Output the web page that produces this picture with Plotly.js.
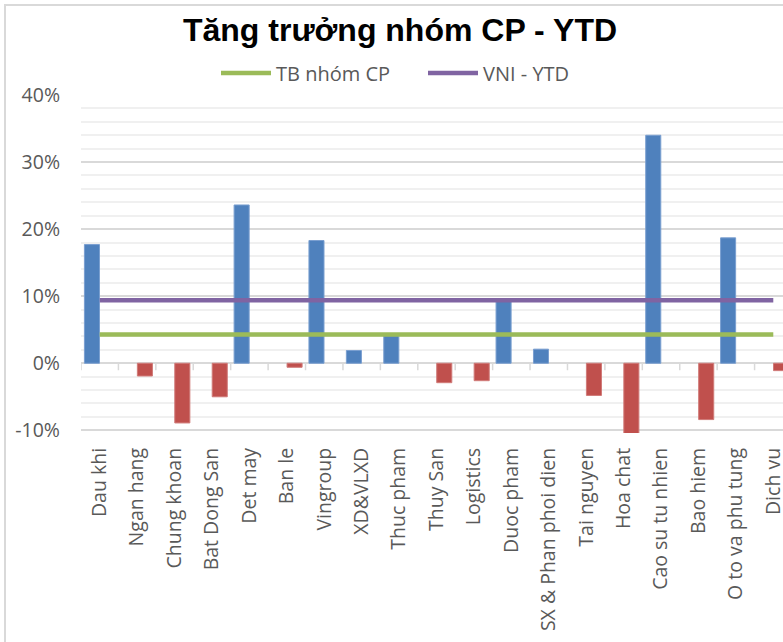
<!DOCTYPE html>
<html>
<head>
<meta charset="utf-8">
<script src="https://cdn.plot.ly/plotly-3.0.1.min.js"></script>
<style>
  html, body { margin: 0; padding: 0; background: #ffffff; overflow: hidden; width: 783px; height: 642px; }
  #frame { position: absolute; left: 4px; top: 4px; width: 900px; height: 900px; border: 2px solid #d9d9d9; box-sizing: border-box; z-index: 0; }
  #chart { position: absolute; left: 0; top: 0; width: 800px; height: 642px; z-index: 1; }
</style>
</head>
<body>
<div id="frame"></div>
<div id="chart"></div>
<script>
const categories = ["Dau khi", "Ngan hang", "Chung khoan", "Bat Dong San", "Det may", "Ban le", "Vingroup", "XD&VLXD", "Thuc pham", "Thuy San", "Logistics", "Duoc pham", "SX & Phan phoi dien", "Tai nguyen", "Hoa chat", "Cao su tu nhien", "Bao hiem", "O to va phu tung", "Dich vu"];
const positiveValues = [17.7, null, null, null, 23.6, null, 18.3, 1.9, 4.1, null, null, 9.3, 2.1, null, null, 34.0, null, 18.7, null];
const negativeValues = [null, -1.9, -8.9, -5.0, null, -0.6, null, null, null, -2.9, -2.6, null, null, -4.8, -10.5, null, -8.4, null, -1.1];
const tbNhomCP = [4.3, 4.3, 4.3, 4.3, 4.3, 4.3, 4.3, 4.3, 4.3, 4.3, 4.3, 4.3, 4.3, 4.3, 4.3, 4.3, 4.3, 4.3, 4.3];
const vniYTD = [9.4, 9.4, 9.4, 9.4, 9.4, 9.4, 9.4, 9.4, 9.4, 9.4, 9.4, 9.4, 9.4, 9.4, 9.4, 9.4, 9.4, 9.4, 9.4];
const yTickVals = [-10, 0, 10, 20, 30, 40];
const yTickText = ["-10%", "0%", "10%", "20%", "30%", "40%"];

const labelFont = { family: "Open Sans, sans-serif", size: 19.5, color: "#595959" };

const traces = [
  { type: "bar", x: categories, y: positiveValues, name: "Tăng", showlegend: false,
    marker: { color: "#4f81bd", line: { color: "#7a9fd0", width: 1 } }, hoverinfo: "x+y" },
  { type: "bar", x: categories, y: negativeValues, name: "Giảm", showlegend: false,
    marker: { color: "#c0504d", line: { color: "#d07a78", width: 1 } }, hoverinfo: "x+y" },
  { type: "scatter", mode: "lines", x: categories, y: tbNhomCP, name: "TB nhóm CP",
    line: { color: "#9bbb59", width: 4.5 } },
  { type: "scatter", mode: "lines", x: categories, y: vniYTD, name: "VNI - YTD",
    line: { color: "#8064a2", width: 4.5 } }
];

// category-boundary tick marks on the zero axis line
const tickShapes = [];
for (let i = 0; i <= categories.length; i++) {
  tickShapes.push({ type: "line", xref: "x", yref: "y", ysizemode: "pixel", yanchor: 0,
    x0: i - 0.5, x1: i - 0.5, y0: 0, y1: -7, line: { color: "#d9d9d9", width: 1.5 } });
}

const layout = {
  width: 800, height: 642,
  margin: { l: 81, r: 8, t: 95, b: 209 },
  paper_bgcolor: "rgba(0,0,0,0)", plot_bgcolor: "rgba(0,0,0,0)",
  title: { text: "Tăng trưởng nhóm CP - YTD", xref: "container", x: 0.5, xanchor: "center",
    yref: "container", y: 1 - 30 / 642, yanchor: "middle",
    font: { family: "Liberation Sans, Arial, sans-serif", size: 32, color: "#000000", weight: "bold" } },
  barmode: "group", bargap: 0.17, bargroupgap: 0.03,
  showlegend: true,
  legend: { orientation: "h", xref: "container", yref: "container", x: 216 / 800, xanchor: "left",
    y: 1 - 73 / 642, yanchor: "middle", font: { family: "Open Sans, sans-serif", size: 20, color: "#595959" },
    bgcolor: "rgba(0,0,0,0)", itemwidth: 50, entrywidth: 142, entrywidthmode: "pixels", traceorder: "normal" },
  xaxis: { type: "category", range: [-0.5, 18.5], showgrid: false, showline: false, zeroline: false,
    ticks: "", tickangle: -90, tickfont: labelFont, ticklabelstandoff: 10, automargin: false, fixedrange: true },
  yaxis: { range: [-10.4, 40], tickvals: yTickVals, ticktext: yTickText, showgrid: true, gridcolor: "#d9d9d9", gridwidth: 2,
    minor: { dtick: 2, tick0: 0, showgrid: true, gridcolor: "#f0f0f0", gridwidth: 2, ticks: "" },
    zeroline: true, zerolinecolor: "#d9d9d9", zerolinewidth: 2, showline: false, ticks: "",
    tickfont: labelFont, ticklabelstandoff: 20, automargin: false, fixedrange: true },
  shapes: tickShapes
};

Plotly.newPlot("chart", traces, layout, { displayModeBar: false, staticPlot: true });
</script>
</body>
</html>
